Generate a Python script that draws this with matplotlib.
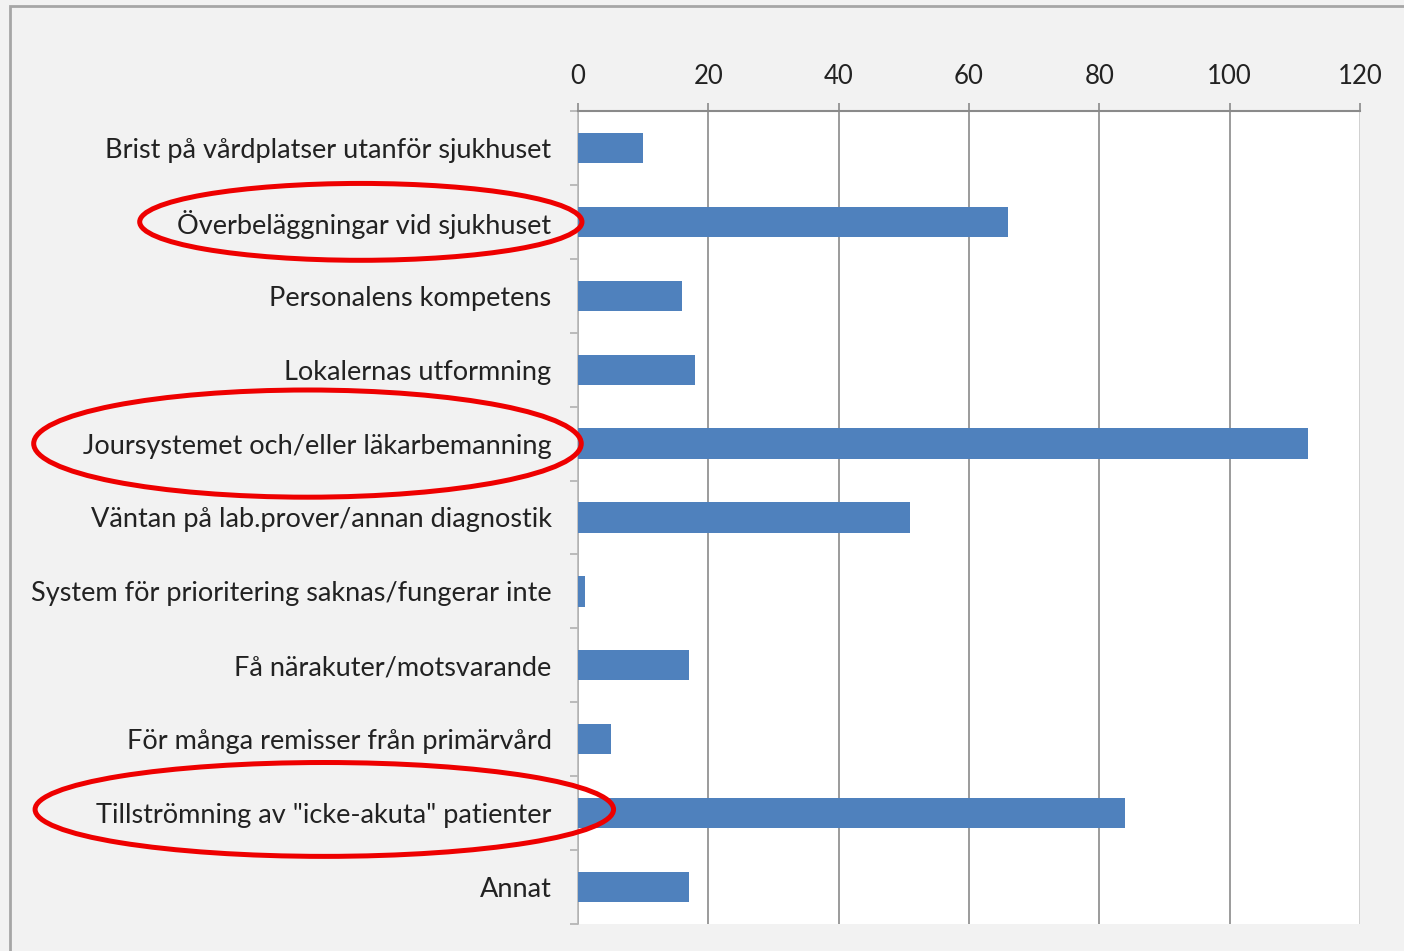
import matplotlib.pyplot as plt
from matplotlib.patches import Ellipse, Rectangle
from matplotlib.transforms import blended_transform_factory
import numpy as np

categories = [
    "Brist på vårdplatser utanför sjukhuset",
    "Överbeläggningar vid sjukhuset",
    "Personalens kompetens",
    "Lokalernas utformning",
    "Joursystemet och/eller läkarbemanning",
    "Väntan på lab.prover/annan diagnostik",
    "System för prioritering saknas/fungerar inte",
    "Få närakuter/motsvarande",
    "För många remisser från primärvård",
    'Tillströmning av "icke-akuta" patienter',
    "Annat",
]
counts = [10, 66, 16, 18, 112, 51, 1, 17, 5, 84, 17]
x_ticks = [0, 20, 40, 60, 80, 100, 120]

# categories to ring in red: (index, x centre, width in figure fraction, height in rows, y shift)
highlighted = [
    (1, 0.257, 0.315, 1.04, 0.0),
    (4, 0.219, 0.390, 1.45, 0.0),
    (9, 0.231, 0.412, 1.27, -0.05),
]

plt.rcParams['font.family'] = ['Lato', 'DejaVu Sans']

fig = plt.figure(figsize=(14.04, 9.51), dpi=100, facecolor="#f2f2f2")
ax = fig.add_axes([578 / 1404, 1 - 924 / 951, 782 / 1404, 813 / 951])
ax.set_facecolor("white")

y = np.arange(len(categories))
ax.barh(y, counts, height=0.41, color="#4f81bd", zorder=3)

ax.set_xlim(0, 120)
ax.set_ylim(len(categories) - 0.5, -0.5)
ax.xaxis.tick_top()
ax.set_xticks(x_ticks)
ax.set_xticklabels([str(t) for t in x_ticks], fontsize=18.5, color="#222222")
ax.tick_params(axis="x", length=6, width=1.2, color="#8a8a8a", pad=10)
ax.grid(axis="x", color="#8a8a8a", linewidth=1.2, zorder=1)
ax.get_xgridlines()[-1].set_color("#c8c8c8")

# labels centred on the rows, ticks on the row boundaries
ax.set_yticks(y)
ax.set_yticklabels(categories, fontsize=19.5, color="#222222")
ax.set_yticks(np.arange(len(categories) + 1) - 0.5, minor=True)
ax.tick_params(axis="y", which="major", length=0, pad=19)
ax.tick_params(axis="y", which="minor", length=6, width=1.2, color="#b0b0b0")

for side in ["right", "bottom"]:
    ax.spines[side].set_visible(False)
ax.spines["top"].set_color("#8a8a8a")
ax.spines["top"].set_linewidth(1.5)
ax.spines["left"].set_color("#b8b8b8")
ax.spines["left"].set_linewidth(1.2)

# outer frame of the chart area
fig.patches.append(Rectangle((10 / 1404, -0.1), 1.2, 1.1 - 6 / 951,
                             transform=fig.transFigure, fill=False,
                             edgecolor="#a6a6a6", linewidth=2, zorder=0))

trans = blended_transform_factory(fig.transFigure, ax.transData)
for idx, xc, w, h, dy in highlighted:
    ring = Ellipse((xc, idx + dy), w, h, transform=trans, fill=False,
                   edgecolor="#ee0000", linewidth=3.6, zorder=5, clip_on=False)
    fig.patches.append(ring)

fig.savefig("out.png", dpi=100, facecolor=fig.get_facecolor())
